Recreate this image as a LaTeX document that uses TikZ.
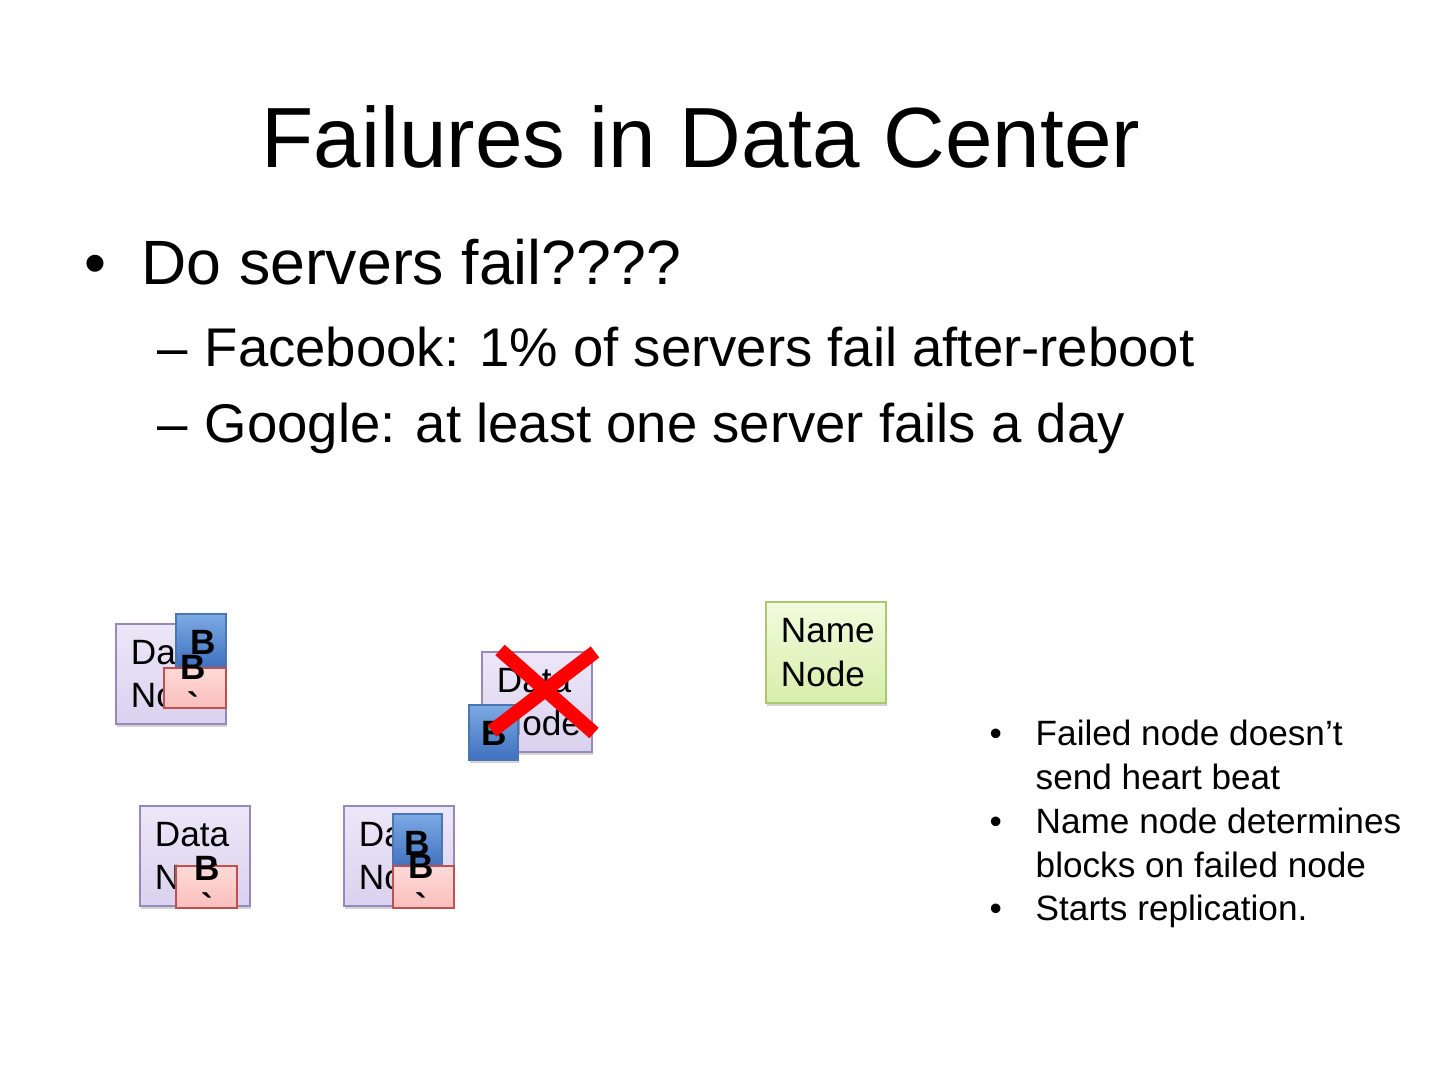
\documentclass[tikz,border=0pt]{standalone}
\usepackage{fontspec}
\setmainfont{Liberation Sans}
\newfontfamily\rawfont{Liberation Sans}[Ligatures=ResetAll]
\usepackage{xcolor}
\definecolor{dntop}{RGB}{236,231,248}
\definecolor{dnbot}{RGB}{218,210,238}
\definecolor{dnline}{RGB}{150,136,186}
\definecolor{nntop}{RGB}{242,251,222}
\definecolor{nnbot}{RGB}{214,238,170}
\definecolor{nnline}{RGB}{170,200,110}
\definecolor{bltop}{RGB}{125,170,228}
\definecolor{blbot}{RGB}{62,112,190}
\definecolor{blline}{RGB}{74,118,180}
\definecolor{rdtop}{RGB}{255,218,216}
\definecolor{rdbot}{RGB}{248,190,188}
\definecolor{rdline}{RGB}{192,80,77}
\usepackage{tikz}
\usetikzlibrary{shadows}

\begin{document}
\begin{tikzpicture}[x=0.01cm,y=-0.01cm,
  txt/.style={anchor=base west,inner sep=0pt},
  datanode/.style={draw=dnline,top color=dntop,bottom color=dnbot,minimum width=11mm,minimum height=10mm,text width=8mm,inner xsep=1.5mm,inner ysep=0pt,align=left,font=\fontsize{10}{12.3}\selectfont,drop shadow={shadow xshift=0.3pt,shadow yshift=-0.8pt,opacity=0.35}},
  namenode/.style={datanode,draw=nnline,top color=nntop,bottom color=nnbot,minimum width=12mm,minimum height=10.1mm,text width=9mm},
  blueblk/.style={draw=blline,top color=bltop,bottom color=blbot,inner sep=0pt,drop shadow={shadow xshift=0.3pt,shadow yshift=-0.8pt,opacity=0.35}},
  redblk/.style={draw=rdline,top color=rdtop,bottom color=rdbot,inner sep=0pt,minimum height=4mm},
  blktxt/.style={anchor=base,inner sep=0pt,font=\fontsize{10}{12.3}\selectfont\bfseries},
  gravetxt/.style={anchor=base,inner sep=0pt,font=\fontsize{10}{12.3}\rawfont\bfseries},
  xmark/.style={draw=red,line width=1.4mm}
]
  \useasboundingbox (0,0) rectangle (1440,1080);

  % title and bullets
  \node[anchor=base,inner sep=0pt,font=\fontsize{24.3}{29}\selectfont] (title) at (701,168) {Failures in Data Center};
  \node[txt,font=\fontsize{17.8}{21}\selectfont] (b0) at (84,285) {\textbullet};
  \node[txt,font=\fontsize{17.8}{21}\selectfont] (q0) at (141,285) {Do servers fail????};
  \node[txt,font=\fontsize{15.5}{19}\selectfont] (d1) at (157,367) {–};
  \node[txt,font=\fontsize{15.5}{19}\selectfont] (q1) at (204,367) {Facebook: 1\% of servers fail after-reboot};
  \node[txt,font=\fontsize{15.5}{19}\selectfont] (d2) at (157,443) {–};
  \node[txt,font=\fontsize{15.5}{19}\selectfont] (q2) at (204,443) {Google: at least one server fails a day};

  % data node 1
  \node[datanode] (dn1) at (171,674) {Data\\Node};
  \node[blueblk,minimum width=5mm,minimum height=5.4mm] (bl1) at (201,641) {};
  \node[blktxt] (bl1t) at (203,655) {B};
  \node[redblk,minimum width=6.2mm] (rd1) at (195,688) {};
  \node[blktxt] (rd1t) at (193,680) {B};
  \node[gravetxt] (rd1g) at (193,718) {`};

  % data node 2 (failed)
  \node[datanode] (dn2) at (537,702) {Data\\Node};
  \node[blueblk,minimum width=4.9mm,minimum height=5.5mm] (bl2) at (493.5,732.5) {};
  \node[blktxt] (bl2t) at (494,745) {B};
  \draw[xmark] (500,650) -- (594,733);
  \draw[xmark] (595,652) -- (492,731);

  % data node 3
  \node[datanode] (dn3) at (195,856) {Data\\Node};
  \node[redblk,minimum width=6.1mm,minimum height=4.2mm] (rd3) at (206.5,887) {};
  \node[blktxt] (rd3t) at (207,880) {B};
  \node[gravetxt] (rd3g) at (207,918) {`};

  % data node 4
  \node[datanode] (dn4) at (399,856) {Data\\Node};
  \node[blueblk,minimum width=4.9mm,minimum height=5.4mm] (bl4) at (417.5,841) {};
  \node[blktxt] (bl4t) at (417,855) {B};
  \node[redblk,minimum width=6.1mm,minimum height=4.2mm] (rd4) at (423.5,887) {};
  \node[blktxt] (rd4t) at (421,878) {B};
  \node[gravetxt] (rd4g) at (421,918) {`};

  % name node
  \node[namenode] (nn) at (826,652.5) {Name\\Node};

  % notes
  \node[txt,font=\fontsize{10}{12.3}\selectfont] (n1b) at (989,745) {\textbullet};
  \node[txt,font=\fontsize{10}{12.3}\selectfont] (n1a) at (1035,745) {Failed node doesn’t};
  \node[txt,font=\fontsize{10}{12.3}\selectfont] (n1c) at (1035,789) {send heart beat};
  \node[txt,font=\fontsize{10}{12.3}\selectfont] (n2b) at (989,833) {\textbullet};
  \node[txt,font=\fontsize{10}{12.3}\selectfont] (n2a) at (1035,833) {Name node determines};
  \node[txt,font=\fontsize{10}{12.3}\selectfont] (n2c) at (1035,877) {blocks on failed node};
  \node[txt,font=\fontsize{10}{12.3}\selectfont] (n3b) at (989,920) {\textbullet};
  \node[txt,font=\fontsize{10}{12.3}\selectfont] (n3a) at (1035,920) {Starts replication.};
\end{tikzpicture}
\end{document}
